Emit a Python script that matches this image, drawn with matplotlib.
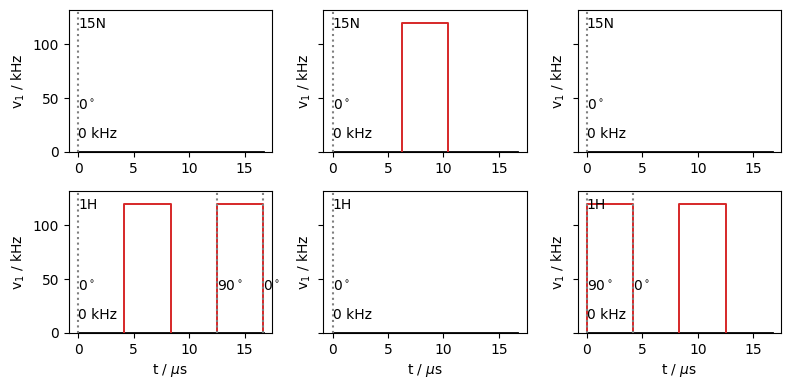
import numpy as np
import matplotlib
matplotlib.use("Agg")
import matplotlib.pyplot as plt

# pulse sequence data (times in us, amplitudes in kHz)
t_total = 16.67
amp = 120
channels = ["15N", "1H"]
# pulses per panel: list of (start, end) for each row/col
pulses = {
    (0, 0): [],
    (0, 1): [(6.25, 10.42)],
    (0, 2): [],
    (1, 0): [(4.17, 8.33), (12.5, 16.67)],
    (1, 1): [],
    (1, 2): [(0.0, 4.17), (8.33, 12.5)],
}
# phase markers per panel: (time, phase label)
phases = {
    (0, 0): [(0.0, "0")],
    (0, 1): [(0.0, "0")],
    (0, 2): [(0.0, "0")],
    (1, 0): [(0.0, "0"), (12.5, "90"), (16.67, "0")],
    (1, 1): [(0.0, "0")],
    (1, 2): [(0.0, "90"), (4.17, "0")],
}
offsets = ["0 kHz", "0 kHz", "0 kHz", "0 kHz", "0 kHz", "0 kHz"]

fig, axes = plt.subplots(2, 3, figsize=(7.9, 3.89), sharey=True)

for r in range(2):
    for c in range(3):
        ax = axes[r, c]
        ax.plot([0, t_total], [0, 0], color="black", lw=2)
        for (t0, t1) in pulses[(r, c)]:
            ax.plot([t0, t0, t1, t1], [0, amp, amp, 0], color="tab:red", lw=1.4)
        for (tp, ph) in phases[(r, c)]:
            ax.axvline(tp, color="gray", ls=":", lw=1.5)
            ax.text(tp, 43, ph + r"$^\circ$", va="center", ha="left")
        ax.text(0, 17, offsets[r * 3 + c], va="center", ha="left")
        ax.text(0, 119, channels[r], va="center", ha="left")
        ax.set_ylim(0, 132)
        ax.set_xticks([0, 5, 10, 15])
        ax.set_ylabel("v$_1$ / kHz")
        if r == 1:
            ax.set_xlabel(r"t / $\mu$s")

plt.subplots_adjust(left=0.0873, right=0.9886, top=0.9743, bottom=0.144,
                    hspace=0.275, wspace=0.251)
plt.savefig("out.png", dpi=100)
